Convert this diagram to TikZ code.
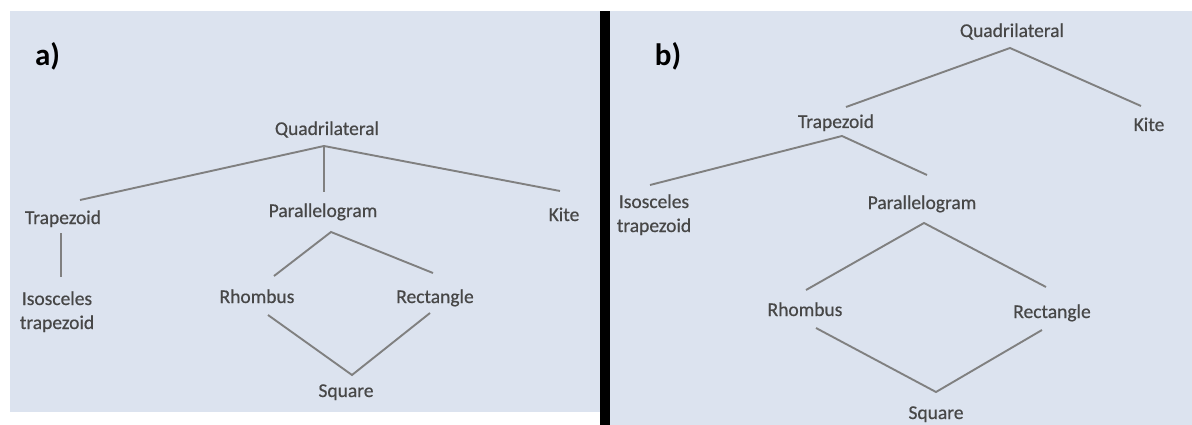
\documentclass[tikz,border=0pt]{standalone}
\usepackage{fontspec}
\setmainfont{Carlito}
\newfontfamily\lblfont[FakeBold=0.5]{Carlito}
\definecolor{panelbg}{HTML}{DCE3EF}
\definecolor{txtgray}{HTML}{474747}
\definecolor{linegray}{HTML}{808080}
\tikzset{
  lbl/.style={font=\lblfont\fontsize{19.5}{24}\selectfont, text=txtgray, inner sep=0pt, anchor=base},
  tag/.style={font=\fontsize{31}{36}\selectfont\bfseries, text=black, inner sep=0pt, anchor=base},
  ln/.style={draw=linegray, line width=1.9pt}
}
\begin{document}
\begin{tikzpicture}[x=1pt,y=-1pt]
\useasboundingbox (0,0) rectangle (1192,425);
\fill[white] (0,0) rectangle (1192,425);
\fill[panelbg] (10,11) rectangle (600,412);
\fill[black] (600,11) rectangle (610,425);
\fill[panelbg] (610,11) rectangle (1192,425);

% ---- panel a
\node[tag] (taga) at (47.5,66) {a)};
\node[lbl] (qa) at (327,135) {Quadrilateral};
\node[lbl] (ta) at (63,224) {Trapezoid};
\node[lbl] (pa) at (323,217) {Parallelogram};
\node[lbl] (ka) at (564,221) {Kite};
\node[lbl] (ia) at (57,305) {\begin{tabular}[t]{@{}c@{}}Isosceles\\trapezoid\end{tabular}};
\node[lbl] (ra) at (257,303) {Rhombus};
\node[lbl] (rca) at (435,303) {Rectangle};
\node[lbl] (sa) at (346,397) {Square};

\draw[ln] ([shift={(17,-24)}]ta.base) -- ([shift={(-3,11)}]qa.base) -- ([shift={(-4,-30)}]ka.base);
\draw[ln] ([shift={(-3,11)}]qa.base) -- ([shift={(1,-25)}]pa.base);
\draw[ln] ([shift={(-2,9)}]ta.base) -- ([shift={(4,-28)}]ia.base);
\draw[ln] ([shift={(17,-27)}]ra.base) -- ([shift={(8,15)}]pa.base) -- ([shift={(-2,-30)}]rca.base);
\draw[ln] ([shift={(11,12)}]ra.base) -- ([shift={(6,-22)}]sa.base) -- ([shift={(-5,10)}]rca.base);

% ---- panel b
\node[tag] (tagb) at (668,66) {b)};
\node[lbl] (qb) at (1012,37) {Quadrilateral};
\node[lbl] (tb) at (836,128) {Trapezoid};
\node[lbl] (kb) at (1149,131) {Kite};
\node[lbl] (ib) at (654,208) {\begin{tabular}[t]{@{}c@{}}Isosceles\\trapezoid\end{tabular}};
\node[lbl] (pb) at (922,209) {Parallelogram};
\node[lbl] (rb) at (805,316) {Rhombus};
\node[lbl] (rcb) at (1052,318) {Rectangle};
\node[lbl] (sb) at (936,419) {Square};

\draw[ln] ([shift={(10,-21)}]tb.base) -- ([shift={(-2,11)}]qb.base) -- ([shift={(-8,-25)}]kb.base);
\draw[ln] ([shift={(-4,-23)}]ib.base) -- ([shift={(6,8)}]tb.base) -- ([shift={(5,-34)}]pb.base);
\draw[ln] ([shift={(1,-26)}]rb.base) -- ([shift={(2,14)}]pb.base) -- ([shift={(-6,-31)}]rcb.base);
\draw[ln] ([shift={(11,12)}]rb.base) -- ([shift={(0,-27)}]sb.base) -- ([shift={(-10,12)}]rcb.base);
\end{tikzpicture}
\end{document}
